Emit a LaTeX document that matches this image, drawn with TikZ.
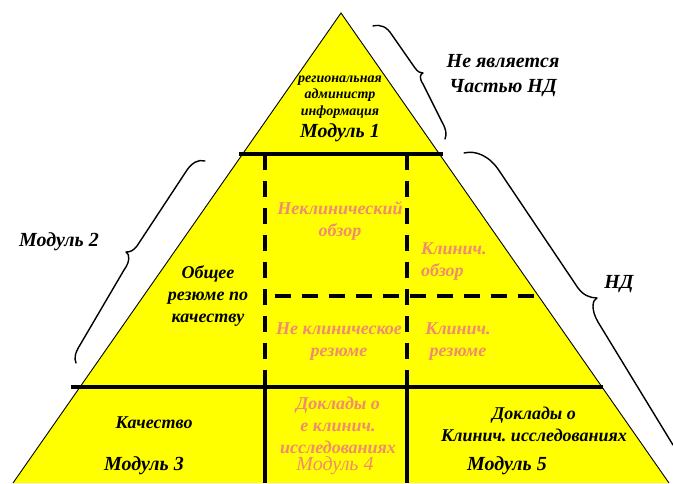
\documentclass[tikz,border=0pt]{standalone}
\usepackage{fontspec}
\setmainfont{Liberation Serif}
\frenchspacing
\definecolor{pyr}{RGB}{255,255,0}
\definecolor{pinkc}{RGB}{240,140,112}
\tikzset{
  lbl/.style={inner sep=0pt, align=center, font=\fontsize{18}{22}\selectfont\bfseries\itshape},
  biglbl/.style={inner sep=0pt, align=center, font=\fontsize{20}{25}\selectfont\bfseries\itshape},
  smalllbl/.style={inner sep=0pt, align=center, font=\fontsize{14}{16.5}\selectfont\bfseries\itshape},
  pinktxt/.style={text=pinkc},
  solidsep/.style={line width=4pt},
  dashsep/.style={line width=3.5pt, dash pattern=on 16pt off 11pt},
  bracepath/.style={line width=1.4pt, line cap=round, line join=round}
}
\begin{document}
\begin{tikzpicture}[x=1pt,y=-1pt]
\useasboundingbox (0,0) rectangle (673,483);
% pyramid corners
\coordinate (apex) at (341,13);
\coordinate (bl) at (13,483);
\coordinate (br) at (669,483);
\fill[pyr] (apex) -- (br) -- (bl) -- cycle;
\draw[line width=0.9pt] (bl) -- (apex) -- (br);
% separators
\coordinate (t1) at (239,154); \coordinate (t2) at (443,154);
\coordinate (b1) at (71,387);  \coordinate (b2) at (603,387);
\coordinate (v1t) at (265,154); \coordinate (v1m) at (265,387); \coordinate (v1b) at (265,483);
\coordinate (v2t) at (407,154); \coordinate (v2m) at (407,387); \coordinate (v2b) at (407,483);
\coordinate (h1) at (275,296); \coordinate (h2) at (539,296);
\draw[dashsep] (v1t) -- (v1m);
\draw[dashsep] (v2t) -- (v2m);
\draw[dashsep] (h1) -- (h2);
\draw[solidsep] (v1m) -- (v1b);
\draw[solidsep] (v2m) -- (v2b);
\draw[solidsep] (t1) -- (t2);
\draw[solidsep] (b1) -- (b2);
% braces
\coordinate (tbA) at (373,26);
\coordinate (tbC) at (423,73);
\coordinate (tbB) at (445,139);
\draw[bracepath] (tbA) .. controls (381,24) and (387,27) .. (392,35) -- (415,68)
  .. controls (418,72) and (420,73) .. (tbC)
  .. controls (420,74) and (419,78) .. (423,84) -- (442,122)
  .. controls (446,129) and (447,134) .. (tbB);
\coordinate (rbA) at (464,153);
\coordinate (rbC) at (597,298);
\coordinate (rbB) at (673,445);
\draw[bracepath] (rbA) .. controls (476,150) and (490,156) .. (500,172) -- (578,288)
  .. controls (583,295) and (590,298) .. (rbC)
  .. controls (592,300) and (591,310) .. (598,322) -- (rbB);
\coordinate (lbA) at (205,161);
\coordinate (lbC) at (126,252);
\coordinate (lbB) at (76,363);
\draw[bracepath] (lbA) .. controls (198,159) and (192,163) .. (187,170) -- (137,246)
  .. controls (133,251) and (130,252) .. (lbC)
  .. controls (130,254) and (130,262) .. (124,270) -- (80,345)
  .. controls (75,353) and (74,358) .. (lbB);
% texts
\node[smalllbl] (reg) at (340,97) {региональная\\администр\\информация};
\node[biglbl] (m1) at (340,133) {Модуль 1};
\node[biglbl] (notnd) at (503,76) {Не является\\Частью НД};
\node[biglbl] (m2) at (59,242) {Модуль 2};
\node[biglbl] (nd) at (619,284) {НД};
\node[lbl] (qos) at (208,296) {Общее\\резюме по\\качеству};
\node[lbl,pinktxt] (ncov) at (340,221) {Неклинический\\обзор};
\node[lbl,pinktxt,align=left,anchor=west] (cov) at (421,262) {Клинич.\\обзор};
\node[lbl,pinktxt] (ncsum) at (339,342) {Не клиническое\\резюме};
\node[lbl,pinktxt] (csum) at (458,342) {Клинич.\\резюме};
\node[lbl] (qual) at (154,423) {Качество};
\node[biglbl] (m3) at (144,466) {Модуль 3};
\node[lbl,pinktxt] (ncrep) at (338,425) {Доклады о\\е клинич.\\исследованиях};
\node[biglbl,pinktxt,font=\fontsize{20}{25}\selectfont\itshape] (m4) at (335,466) {Модуль 4};
\node[lbl] (crep) at (534,424) {Доклады о\\Клинич. исследованиях};
\node[biglbl] (m5) at (507,466) {Модуль 5};
\end{tikzpicture}
\end{document}
